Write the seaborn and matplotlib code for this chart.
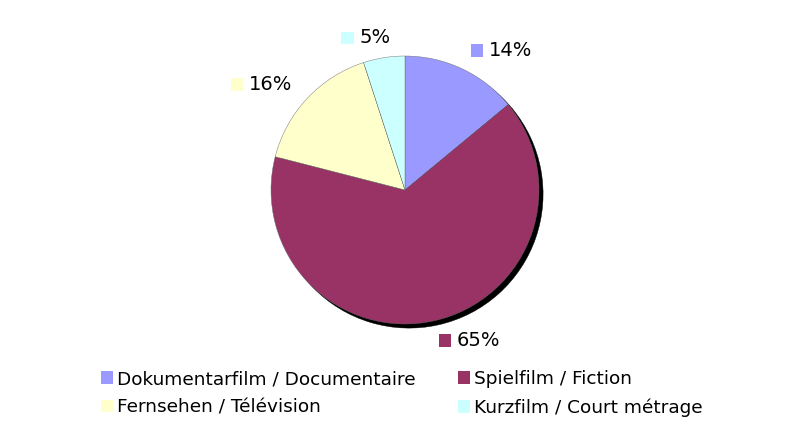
import matplotlib
matplotlib.use("Agg")
import matplotlib.pyplot as plt
import seaborn as sns
import numpy as np
from matplotlib.patches import Rectangle, Patch
from matplotlib.offsetbox import AnnotationBbox, HPacker, DrawingArea, TextArea

categories = ["Dokumentarfilm / Documentaire", "Spielfilm / Fiction",
              "Fernsehen / Télévision", "Kurzfilm / Court métrage"]
shares = [14, 65, 16, 5]
pct_labels = ["14%", "65%", "16%", "5%"]
colors = ["#9999FF", "#993366", "#FFFFCC", "#CCFFFF"]

sns.set_style("white")
plt.rcParams["font.family"] = ["DejaVu Sans"]
plt.rcParams["text.color"] = "black"

fig = plt.figure(figsize=(7.92, 4.26), dpi=100)
ax = fig.add_axes([0, 0, 1, 1])

# pie radius and centre in pixels
rad_px = 134.0
cx, cy = 405, 426 - 190

wedges, _ = ax.pie(shares, colors=colors, startangle=90, counterclock=False,
                   wedgeprops=dict(linewidth=0.3, edgecolor="#666666"),
                   shadow=dict(ox=0.022, oy=-0.022, shade=1.0, alpha=1.0))
ax.set_xlim(-cx / rad_px, (792 - cx) / rad_px)
ax.set_ylim(-cy / rad_px, (426 - cy) / rad_px)
ax.set_aspect("equal")
ax.axis("off")

# percentage labels with coloured square
mid = 90 - (np.cumsum(shares) - np.array(shares) / 2) * 3.6
for ang, lab, col in zip(mid, pct_labels, colors):
    r = np.deg2rad(ang)
    x, y = 1.15 * np.cos(r), 1.15 * np.sin(r)
    da = DrawingArea(9, 9, 0, 0)
    da.add_artist(Rectangle((0, 0), 9, 9, facecolor=col, edgecolor="none"))
    ta = TextArea(lab, textprops=dict(fontsize=14, color="black"))
    box = HPacker(children=[da, ta], align="center", pad=0, sep=4.3)
    halign = 0 if np.cos(r) > 0 else (0.8 if np.cos(r) > -0.3 else 1)
    ab = AnnotationBbox(box, (x, y), xycoords="data",
                        box_alignment=(halign, 0.5),
                        frameon=False, pad=0, annotation_clip=False)
    ax.add_artist(ab)

handles = [Patch(facecolor=c, edgecolor="none", label=l) for c, l in zip(colors, categories)]
order = [0, 2, 1, 3]
fig.legend([handles[i] for i in order], [categories[i] for i in order],
           ncol=2, loc="upper left", bbox_to_anchor=(101 / 792, 1 - 370 / 426),
           frameon=False, fontsize=13.3, handlelength=0.65, handleheight=0.65,
           handletextpad=0.22, columnspacing=2.3, borderpad=0, borderaxespad=0,
           labelspacing=0.56, labelcolor="black")

fig.savefig("out.png", dpi=100)
